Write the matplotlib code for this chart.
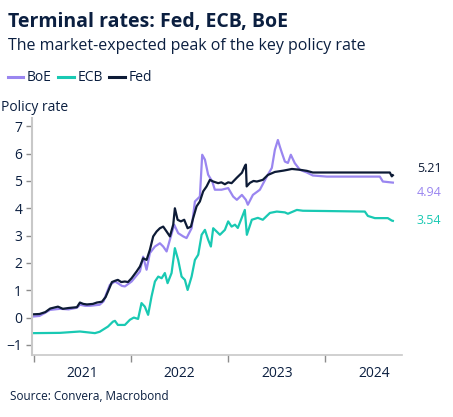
import matplotlib
matplotlib.use("Agg")
import matplotlib.pyplot as plt
from matplotlib.lines import Line2D

# Terminal rates (decimal year, %)
fed_t = [2021.0, 2021.06, 2021.12, 2021.17, 2021.25, 2021.30, 2021.36, 2021.445, 2021.476, 2021.51,
         2021.548, 2021.609, 2021.65, 2021.702, 2021.74, 2021.764, 2021.805, 2021.84, 2021.866, 2021.9,
         2021.938, 2021.97, 2022.007, 2022.059, 2022.093, 2022.126, 2022.161, 2022.195, 2022.229, 2022.264,
         2022.298, 2022.332, 2022.367, 2022.401, 2022.435, 2022.452, 2022.48, 2022.514, 2022.548, 2022.583,
         2022.617, 2022.64, 2022.675, 2022.709, 2022.743, 2022.778, 2022.812, 2022.846, 2022.897, 2022.93,
         2022.966, 2023.0, 2023.035, 2023.089, 2023.141, 2023.172, 2023.182,
         2023.19, 2023.223, 2023.26, 2023.295, 2023.356, 2023.408, 2023.48, 2023.57, 2023.614, 2023.655,
         2023.737, 2023.809, 2023.87, 2024.0, 2024.3, 2024.662, 2024.682, 2024.693]
fed_v = [0.12, 0.13, 0.2, 0.33, 0.4, 0.32, 0.35, 0.38, 0.55, 0.5,
         0.48, 0.5, 0.55, 0.58, 0.75, 0.95, 1.3, 1.35, 1.38, 1.3,
         1.32, 1.3, 1.44, 1.69, 1.87, 2.17, 2.11, 2.48, 2.97, 3.15,
         3.27, 3.33, 3.15, 2.97, 3.4, 4.0, 3.58, 3.52, 3.58, 3.27,
         3.33, 3.64, 4.07, 4.25, 4.62, 4.8, 5.04, 4.98, 4.92, 4.95,
         4.88, 4.95, 4.92, 5.12, 5.3, 5.55, 5.6,
         4.8, 4.93, 5.0, 4.98, 5.04, 5.22, 5.33, 5.38, 5.41, 5.44,
         5.41, 5.37, 5.31, 5.31, 5.31, 5.31, 5.17, 5.21]

boe_t = [2021.0, 2021.06, 2021.116, 2021.168, 2021.27, 2021.36, 2021.445, 2021.476, 2021.53, 2021.579,
         2021.679, 2021.72, 2021.743, 2021.784, 2021.836, 2021.87, 2021.907, 2021.938, 2022.007, 2022.093,
         2022.126, 2022.161, 2022.195, 2022.247, 2022.298, 2022.332, 2022.367, 2022.401, 2022.445, 2022.486,
         2022.538, 2022.572, 2022.624, 2022.658, 2022.709, 2022.733, 2022.761, 2022.794, 2022.836, 2022.863,
         2022.932, 2023.0, 2023.051, 2023.089, 2023.141, 2023.182, 2023.202, 2023.254, 2023.326,
         2023.397, 2023.449, 2023.48, 2023.511, 2023.531, 2023.552, 2023.583, 2023.614, 2023.644, 2023.685,
         2023.737, 2023.809, 2023.87, 2024.014, 2024.3, 2024.559, 2024.59, 2024.693]
boe_v = [0.04, 0.06, 0.17, 0.28, 0.32, 0.3, 0.36, 0.47, 0.43, 0.43,
         0.47, 0.6, 0.83, 1.2, 1.32, 1.25, 1.16, 1.14, 1.32, 1.69,
         2.23, 1.75, 2.36, 2.6, 2.72, 2.6, 2.42, 2.85, 3.4, 3.09,
         2.97, 2.91, 3.27, 4.25, 4.43, 5.96, 5.78, 5.23, 4.98, 4.68,
         4.68, 4.74, 4.43, 4.31, 4.49, 4.31, 4.13, 4.49, 4.68,
         5.16, 5.48, 6.14, 6.5, 6.26, 6.03, 5.71, 5.66, 5.96, 5.65,
         5.41, 5.31, 5.2, 5.16, 5.16, 5.16, 4.98, 4.94]

ecb_t = [2021.0, 2021.27, 2021.476, 2021.63, 2021.679, 2021.764, 2021.815, 2021.836, 2021.866, 2021.938,
         2021.99, 2022.03, 2022.074, 2022.109, 2022.143, 2022.177, 2022.212, 2022.247, 2022.281, 2022.316,
         2022.349, 2022.377, 2022.418, 2022.452, 2022.486, 2022.521, 2022.555, 2022.583, 2022.624, 2022.658,
         2022.692, 2022.727, 2022.761, 2022.794, 2022.822, 2022.846, 2022.881, 2022.915, 2022.966, 2023.0,
         2023.035, 2023.07, 2023.099, 2023.171, 2023.192, 2023.243,
         2023.305, 2023.356, 2023.429, 2023.5, 2023.583, 2023.614, 2023.706, 2023.768, 2024.0, 2024.405,
         2024.436, 2024.508, 2024.641, 2024.682, 2024.693]
ecb_v = [-0.57, -0.56, -0.51, -0.57, -0.52, -0.33, -0.15, -0.12, -0.27, -0.27,
         -0.08, 0.0, -0.05, 0.53, 0.4, 0.1, 0.77, 1.32, 1.5, 1.44,
         1.63, 1.26, 1.63, 2.54, 2.11, 1.5, 1.38, 1.01, 1.5, 2.11,
         2.3, 3.03, 3.21, 2.85, 2.6, 3.27, 3.15, 3.03, 3.21, 3.52,
         3.33, 3.4, 3.28, 3.94, 3.03, 3.58,
         3.65, 3.58, 3.83, 3.88, 3.85, 3.8, 3.94, 3.91, 3.9, 3.88,
         3.72, 3.64, 3.64, 3.55, 3.54]

years = [2021, 2022, 2023, 2024]

navy = "#0b1f40"
c_boe = "#9a86f0"
c_ecb = "#19c9b3"
c_fed = "#0d1b36"
grey = "#c8c8c8"

plt.rcParams['font.family'] = ['Open Sans', 'DejaVu Sans']

fig = plt.figure(figsize=(4.53, 4.17), dpi=100)
ax = fig.add_axes([0.0706, 0.1487, 0.8164, 0.568])

ax.plot(boe_t, boe_v, color=c_boe, lw=1.6)
ax.plot(ecb_t, ecb_v, color=c_ecb, lw=1.6)
ax.plot(fed_t, fed_v, color=c_fed, lw=1.6)

ax.set_xlim(2020.983, 2024.785)
ax.set_ylim(-1.37, 7.3)

# end-of-series labels, nudged apart like the original
for t, v, c, dy in [(fed_t[-1], fed_v[-1], c_fed, 7),
                    (boe_t[-1], boe_v[-1], c_boe, -10),
                    (ecb_t[-1], ecb_v[-1], c_ecb, 0)]:
    ax.annotate(f"{v:.2f}", xy=(t, v), xytext=(24, dy), textcoords="offset pixels",
                ha="left", va="center", color=c, fontsize=9, annotation_clip=False)

for s in ["top", "right"]:
    ax.spines[s].set_visible(False)
ax.spines["left"].set_color(grey)
ax.spines["left"].set_linewidth(1.5)
ax.spines["bottom"].set_color(grey)
ax.spines["bottom"].set_linewidth(1.2)

ax.set_yticks(range(-1, 8))
ax.tick_params(axis="y", colors="#8c8c8c", length=4, width=1, labelcolor=navy, labelsize=10, pad=3)
ax.set_xticks(years)
ax.set_xticklabels([])
ax.set_xticks([y + 0.5 for y in years], minor=True)
ax.set_xticklabels([str(y) for y in years], minor=True)
ax.tick_params(axis="x", which="major", colors="#8c8c8c", length=5, width=1)
ax.tick_params(axis="x", which="minor", length=0, labelcolor=navy, labelsize=10, pad=8)

fig.text(0.018, 0.947, "Terminal rates: Fed, ECB, BoE", fontsize=14, fontweight="bold",
         color=navy, va="center")
fig.text(0.018, 0.89, "The market-expected peak of the key policy rate", fontsize=11.5,
         color=navy, va="center")
fig.text(0.002, 0.743, "Policy rate", fontsize=10, color=navy, va="center")
fig.text(0.022, 0.048, "Source: Convera, Macrobond", fontsize=8.5, color=navy, va="center")

handles = [Line2D([], [], color=c_boe, lw=2.2),
           Line2D([], [], color=c_ecb, lw=2.2),
           Line2D([], [], color=c_fed, lw=2.2)]
leg = fig.legend(handles, ["BoE", "ECB", "Fed"], loc="center left", bbox_to_anchor=(0.005, 0.813),
                 ncol=3, frameon=False, handlelength=1.1, handletextpad=0.25, columnspacing=0.5,
                 fontsize=10, borderaxespad=0)
for txt in leg.get_texts():
    txt.set_color(navy)

fig.savefig("out.png", dpi=100)
